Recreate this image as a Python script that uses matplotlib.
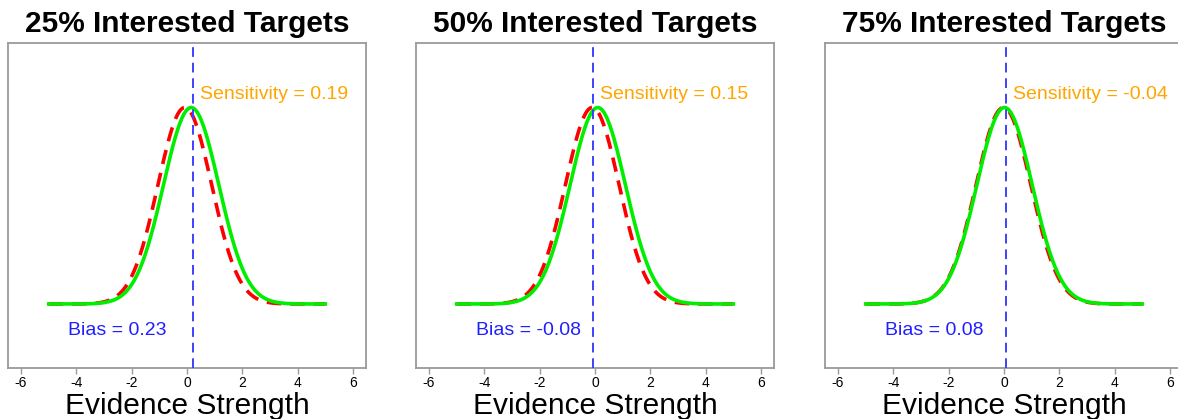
import numpy as np
from matplotlib import pyplot as plt

plt.rcParams['font.family'] = ['Liberation Sans', 'DejaVu Sans']

TITLES = ['25% Interested Targets', '50% Interested Targets', '75% Interested Targets']
SENSITIVITY = [0.19, 0.15, -0.04]
BIAS = [0.23, -0.08, 0.08]
# means / sds of the two evidence distributions
RED_MEAN = [-0.08, -0.10, -0.02]
RED_SD = [0.97, 0.97, 0.99]
GREEN_MEAN = [0.15, 0.10, 0.02]
GREEN_SD = [1.0, 1.0, 1.0]
X_TICKS = [-6, -4, -2, 0, 2, 4, 6]
X_RANGE = (-5, 5)


def density(x, mean, sd):
    return np.exp(-0.5 * ((x - mean) / sd) ** 2) / np.sqrt(2 * np.pi)


def main():
    figure = plt.figure(figsize=(11.78, 4.19), dpi=100)
    lefts = [8, 416, 825]
    x = np.linspace(X_RANGE[0], X_RANGE[1], 400)
    frame_color = '#9a9a9a'

    for i in range(3):
        axis = figure.add_axes([lefts[i] / 1178, 51 / 419, 358 / 1178, 325 / 419])
        red_peak = density(RED_MEAN[i], RED_MEAN[i], RED_SD[i])
        green_peak = density(GREEN_MEAN[i], GREEN_MEAN[i], GREEN_SD[i])
        axis.plot(x, density(x, RED_MEAN[i], RED_SD[i]) * green_peak / red_peak, color='#ff0000',
                  linewidth=2.6, linestyle=(0, (4, 2.5)), zorder=2)
        axis.plot(x, density(x, GREEN_MEAN[i], GREEN_SD[i]), color='#00ee00', linewidth=2.6, zorder=3)
        axis.axvline(BIAS[i], color='#4040ff', linewidth=1.4, linestyle=(0, (5, 3)), zorder=4)

        axis.annotate('Sensitivity = %.2f' % SENSITIVITY[i], xy=(BIAS[i], 0.426), xytext=(5, 0),
                      textcoords='offset points', ha='left', va='center', color='#ffa500', fontsize=14)
        axis.text(-4.3, -0.053, 'Bias = %.2f' % BIAS[i], ha='left', va='center', color='#2020ff',
                  fontsize=14)

        axis.set_xlim(-6.47, 6.47)
        axis.set_ylim(-0.13, 0.53)
        axis.set_xticks(X_TICKS)
        axis.set_xticklabels([str(t) for t in X_TICKS], fontsize=10)
        axis.set_yticks([])
        axis.tick_params(axis='x', length=4, width=1, color=frame_color, pad=2)
        for spine in axis.spines.values():
            spine.set_color(frame_color)
            spine.set_linewidth(1.3)
        if i == 2:
            # the last panel runs past the right edge of the picture
            axis.spines['right'].set_visible(False)
        axis.set_title(TITLES[i], fontsize=21.5, fontweight='bold', pad=8)
        axis.set_xlabel('Evidence Strength', fontsize=21.5, labelpad=1)

    figure.savefig('out.png', dpi=100)


if __name__ == "__main__":
    main()
